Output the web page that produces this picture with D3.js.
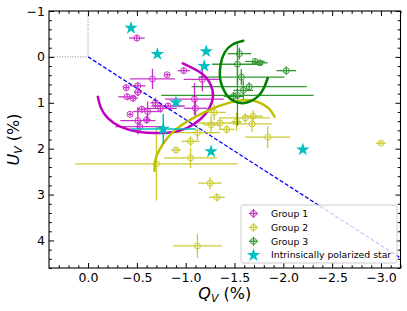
<!DOCTYPE html>
<html>
<head>
<meta charset="utf-8">
<script src="https://cdn.jsdelivr.net/npm/d3@7"></script>
<style>
  body { margin: 0; background: #fff; }
  svg { display: block; font-family: "DejaVu Sans", sans-serif; }
</style>
</head>
<body>
<div class="chart"></div>
<script>
(function chart() {

  'use strict';

  // [Q, U, errQ, errU] in %
  var group1 = [
    [-0.50, -0.41, 0.08, 0.07],
    [-0.66, 0.48, 0.23, 0.22],
    [-0.81, 0.39, 0.03, 0.04],
    [-0.98, 0.30, 0.06, 0.07],
    [-1.17, 0.49, 0.19, 0.26],
    [-0.39, 0.67, 0.03, 0.06],
    [-0.51, 0.63, 0.08, 0.07],
    [-0.51, 0.77, 0.04, 0.09],
    [-0.40, 0.87, 0.09, 0.07],
    [-0.46, 0.90, 0.05, 0.07],
    [-1.09, 0.92, 0.30, 0.35],
    [-1.10, 1.12, 0.12, 0.20],
    [-0.43, 1.25, 0.02, 0.04],
    [-0.55, 1.14, 0.05, 0.07],
    [-0.61, 1.19, 0.15, 0.22],
    [-0.69, 1.00, 0.05, 0.11],
    [-0.74, 1.12, 0.17, 0.09],
    [-0.82, 1.07, 0.17, 0.07],
    [-0.51, 1.39, 0.18, 0.30],
    [-0.60, 1.37, 0.04, 0.09],
    [-0.53, 1.52, 0.25, 0.11]
  ];

  var group2 = [
    [-1.29, 1.21, 0.12, 0.17],
    [-1.26, 1.48, 0.08, 0.20],
    [-1.35, 1.44, 0.22, 0.13],
    [-1.42, 1.58, 0.08, 0.09],
    [-1.52, 1.41, 0.05, 0.20],
    [-1.61, 1.33, 0.25, 0.10],
    [-1.69, 1.29, 0.10, 0.13],
    [-1.68, 1.46, 0.20, 0.17],
    [-1.84, 1.75, 0.23, 0.24],
    [-1.12, 1.65, 0.23, 0.17],
    [-1.05, 1.84, 0.09, 0.11],
    [-0.90, 2.03, 0.05, 0.07],
    [-1.05, 2.20, 0.27, 0.22],
    [-0.70, 2.33, 0.83, 0.80],
    [-1.25, 2.75, 0.12, 0.13],
    [-1.32, 3.06, 0.08, 0.09],
    [-1.12, 4.12, 0.25, 0.26],
    [-3.00, 1.88, 0.05, 0.04]
  ];

  var group3 = [
    [-1.55, -0.07, 0.12, 0.13],
    [-1.53, 0.16, 0.26, 0.45],
    [-1.71, 0.10, 0.10, 0.06],
    [-1.76, 0.13, 0.08, 0.05],
    [-1.57, 0.44, 0.44, 0.17],
    [-2.03, 0.30, 0.10, 0.09],
    [-1.65, 0.65, 0.59, 0.10],
    [-1.59, 0.73, 0.10, 0.22],
    [-1.53, 0.84, 0.78, 0.66],
    [-1.49, 0.86, 0.10, 0.10]
  ];

  var stars = [
    [-0.44, -0.63, 0, 0],
    [-0.71, -0.06, 0, 0],
    [-1.21, -0.12, 0, 0],
    [-1.19, 0.20, 0, 0],
    [-0.90, 0.99, 0, 0],
    [-0.77, 1.57, 0.33, 0.33],
    [-1.26, 2.06, 0, 0],
    [-2.20, 2.02, 0, 0]
  ];

  // traced arcs [Q, U]
  var arc1 = [
    [-0.10, 0.87], [-0.13, 1.10], [-0.20, 1.33], [-0.33, 1.52], [-0.51, 1.63],
    [-0.70, 1.66], [-0.86, 1.64], [-1.01, 1.55], [-1.15, 1.36], [-1.24, 1.12],
    [-1.28, 0.86], [-1.25, 0.58], [-1.15, 0.34], [-0.97, 0.14]
  ];
  var arc2 = [
    [-0.68, 2.48], [-0.69, 2.24], [-0.73, 2.03], [-0.80, 1.80], [-0.90, 1.58],
    [-1.03, 1.39], [-1.18, 1.22], [-1.33, 1.08], [-1.48, 0.98], [-1.64, 0.94],
    [-1.76, 1.00], [-1.85, 1.12], [-1.91, 1.30]
  ];
  var arc3 = [
    [-1.59, -0.35], [-1.48, -0.27], [-1.40, -0.10], [-1.36, 0.14], [-1.35, 0.43],
    [-1.38, 0.68], [-1.43, 0.86], [-1.50, 0.97], [-1.58, 1.01], [-1.66, 0.97],
    [-1.74, 0.86], [-1.80, 0.68], [-1.84, 0.46]
  ];

  var dashLine = [[0, 0], [-3.2, 4.38]];
  var qTicks = [0, -0.5, -1, -1.5, -2, -2.5, -3];
  var uTicks = [-1, 0, 1, 2, 3, 4];
  var labels = ['Group 1', 'Group 2', 'Group 3', 'Intrinsically polarized star'];

  var colors = ['#bf00bf', '#bfbf00', '#008000', '#00bfbf'];

  var width = 407, height = 311;
  var left = 49, right = 400.5, top = 11, bottom = 268;

  var x = d3.scaleLinear().domain([0.4, -3.2]).range([left, right]);
  var y = d3.scaleLinear().domain([-1, 4.6]).range([top, bottom]);

  var svg = d3.select('.chart').append('svg')
    .attr('width', width)
    .attr('height', height);

  svg.append('clipPath').attr('id', 'clip')
    .append('rect')
    .attr('x', left).attr('y', top)
    .attr('width', right - left).attr('height', bottom - top);

  var plot = svg.append('g').attr('clip-path', 'url(#clip)');

  // dotted guides to origin
  plot.append('line')
    .attr('x1', x(0.4)).attr('y1', y(0)).attr('x2', x(0)).attr('y2', y(0))
    .attr('stroke', '#808080').attr('stroke-width', 1).attr('stroke-dasharray', '1,1.6');
  plot.append('line')
    .attr('x1', x(0)).attr('y1', y(-1)).attr('x2', x(0)).attr('y2', y(0))
    .attr('stroke', '#808080').attr('stroke-width', 1).attr('stroke-dasharray', '1,1.6');

  var line = d3.line()
    .x(function (d) { return x(d[0]); })
    .y(function (d) { return y(d[1]); });

  plot.append('path')
    .attr('d', line(dashLine))
    .attr('fill', 'none')
    .attr('stroke', '#0000ff')
    .attr('stroke-width', 1.3)
    .attr('stroke-dasharray', '4,2');

  function errorPoints(data, color) {
    var g = plot.append('g').attr('opacity', 0.8);
    var pts = g.selectAll('g').data(data).enter().append('g');
    pts.append('line')
      .attr('x1', function (d) { return x(d[0] - d[2]); })
      .attr('x2', function (d) { return x(d[0] + d[2]); })
      .attr('y1', function (d) { return y(d[1]); })
      .attr('y2', function (d) { return y(d[1]); })
      .attr('stroke', color).attr('stroke-width', 1.3);
    pts.append('line')
      .attr('x1', function (d) { return x(d[0]); })
      .attr('x2', function (d) { return x(d[0]); })
      .attr('y1', function (d) { return y(d[1] - d[3]); })
      .attr('y2', function (d) { return y(d[1] + d[3]); })
      .attr('stroke', color).attr('stroke-width', 1.3);
    pts.append('circle')
      .attr('cx', function (d) { return x(d[0]); })
      .attr('cy', function (d) { return y(d[1]); })
      .attr('r', 3)
      .attr('fill', 'none')
      .attr('stroke', color).attr('stroke-width', 1);
  }

  errorPoints(group2, colors[1]);
  errorPoints(group3, colors[2]);
  errorPoints(group1, colors[0]);

  var curve = d3.line()
    .x(function (d) { return x(d[0]); })
    .y(function (d) { return y(d[1]); })
    .curve(d3.curveNatural);

  [[arc1, colors[0]], [arc2, colors[1]], [arc3, colors[2]]].forEach(function (a) {
    plot.append('path')
      .attr('d', curve(a[0]))
      .attr('fill', 'none')
      .attr('stroke', a[1])
      .attr('stroke-width', 2.5)
      .attr('stroke-linecap', 'round');
  });

  // intrinsically polarized stars
  var starG = plot.append('g');
  var withErr = stars.filter(function (d) { return d[2] > 0; });
  starG.selectAll('.sx').data(withErr).enter().append('line')
    .attr('x1', function (d) { return x(d[0] - d[2]); })
    .attr('x2', function (d) { return x(d[0] + d[2]); })
    .attr('y1', function (d) { return y(d[1]); })
    .attr('y2', function (d) { return y(d[1]); })
    .attr('stroke', colors[3]).attr('stroke-width', 1.5);
  starG.selectAll('.sy').data(withErr).enter().append('line')
    .attr('x1', function (d) { return x(d[0]); })
    .attr('x2', function (d) { return x(d[0]); })
    .attr('y1', function (d) { return y(d[1] - d[3]); })
    .attr('y2', function (d) { return y(d[1] + d[3]); })
    .attr('stroke', colors[3]).attr('stroke-width', 1.5);

  var star = d3.symbol().type(d3.symbolStar).size(56);
  starG.selectAll('path').data(stars).enter().append('path')
    .attr('d', star)
    .attr('transform', function (d) { return 'translate(' + x(d[0]) + ',' + y(d[1]) + ')'; })
    .attr('fill', colors[3]);

  // axes, ticks inside on all four sides
  function fmtQ(d) { return (d < 0 ? '\u2212' : '') + Math.abs(d).toFixed(1); }
  function fmtU(d) { return (d < 0 ? '\u2212' : '') + Math.abs(d); }

  var qMinor = d3.range(-32, 4).map(function (i) { return i / 10; })
    .filter(function (d) { return Math.abs(d * 2 - Math.round(d * 2)) > 1e-6; });
  var uMinor = d3.range(-5, 24).map(function (i) { return i / 5; })
    .filter(function (d) { return Math.abs(d - Math.round(d)) > 1e-6; });

  function axis(gen, pos, ticks, size, fmt) {
    var g = svg.append('g')
      .attr('transform', pos)
      .call(gen.tickValues(ticks).tickSize(-size).tickPadding(fmt ? 5 : 0)
        .tickFormat(fmt || function () { return ''; }));
    g.select('.domain').remove();
    g.selectAll('line').attr('stroke', '#000').attr('stroke-width', 1);
    g.selectAll('text').attr('fill', '#000').style('font-size', '12.5px')
      .style('font-family', '"DejaVu Sans", sans-serif');
    return g;
  }

  axis(d3.axisBottom(x), 'translate(0,' + bottom + ')', qTicks, 5, fmtQ);
  axis(d3.axisBottom(x), 'translate(0,' + bottom + ')', qMinor, 2.8);
  axis(d3.axisTop(x), 'translate(0,' + top + ')', qTicks, 5);
  axis(d3.axisTop(x), 'translate(0,' + top + ')', qMinor, 2.8);
  var ya = axis(d3.axisLeft(y), 'translate(' + left + ',0)', uTicks, 5, fmtU);
  ya.selectAll('text').attr('x', -4);
  axis(d3.axisLeft(y), 'translate(' + left + ',0)', uMinor, 2.8);
  axis(d3.axisRight(y), 'translate(' + right + ',0)', uTicks, 5);
  axis(d3.axisRight(y), 'translate(' + right + ',0)', uMinor, 2.8);

  svg.append('rect')
    .attr('x', left).attr('y', top)
    .attr('width', right - left).attr('height', bottom - top)
    .attr('fill', 'none').attr('stroke', '#000').attr('stroke-width', 1.1);

  // axis labels
  var xl = svg.append('text')
    .attr('x', (left + right) / 2).attr('y', 299)
    .attr('text-anchor', 'middle').style('font-size', '16px');
  xl.append('tspan').style('font-style', 'italic').text('Q');
  xl.append('tspan').style('font-style', 'italic').style('font-size', '11px')
    .attr('dy', 3).text('V');
  xl.append('tspan').attr('dy', -3).text(' (%)');

  var yl = svg.append('text')
    .attr('transform', 'translate(19,' + (top + bottom) / 2 + ') rotate(-90)')
    .attr('text-anchor', 'middle').style('font-size', '16px');
  yl.append('tspan').style('font-style', 'italic').text('U');
  yl.append('tspan').style('font-style', 'italic').style('font-size', '11px')
    .attr('dy', 3).text('V');
  yl.append('tspan').attr('dy', -3).text(' (%)');

  // legend
  var legend = svg.append('g');
  legend.append('rect')
    .attr('x', 241).attr('y', 205).attr('width', 156).attr('height', 58)
    .attr('rx', 2)
    .attr('fill', '#fff').attr('fill-opacity', 0.8)
    .attr('stroke', '#cccccc').attr('stroke-width', 1);

  var rows = legend.selectAll('.entry').data(labels).enter().append('g')
    .attr('transform', function (d, i) { return 'translate(253.5,' + (213.5 + i * 13.9) + ')'; });

  rows.each(function (d, i) {
    var r = d3.select(this);
    if (i < 3) {
      var e = r.append('g').attr('opacity', 0.8);
      e.append('line').attr('x1', -4.5).attr('x2', 4.5)
        .attr('stroke', colors[i]).attr('stroke-width', 1.3);
      e.append('line').attr('y1', -4.5).attr('y2', 4.5)
        .attr('stroke', colors[i]).attr('stroke-width', 1.3);
      e.append('circle').attr('r', 3).attr('fill', 'none')
        .attr('stroke', colors[i]).attr('stroke-width', 1);
    } else {
      r.append('path').attr('d', star).attr('fill', colors[3]);
    }
    r.append('text')
      .attr('x', 17.5).attr('dy', '0.35em')
      .style('font-size', '9.3px')
      .text(d);
  });
})();
</script>
</body>
</html>
